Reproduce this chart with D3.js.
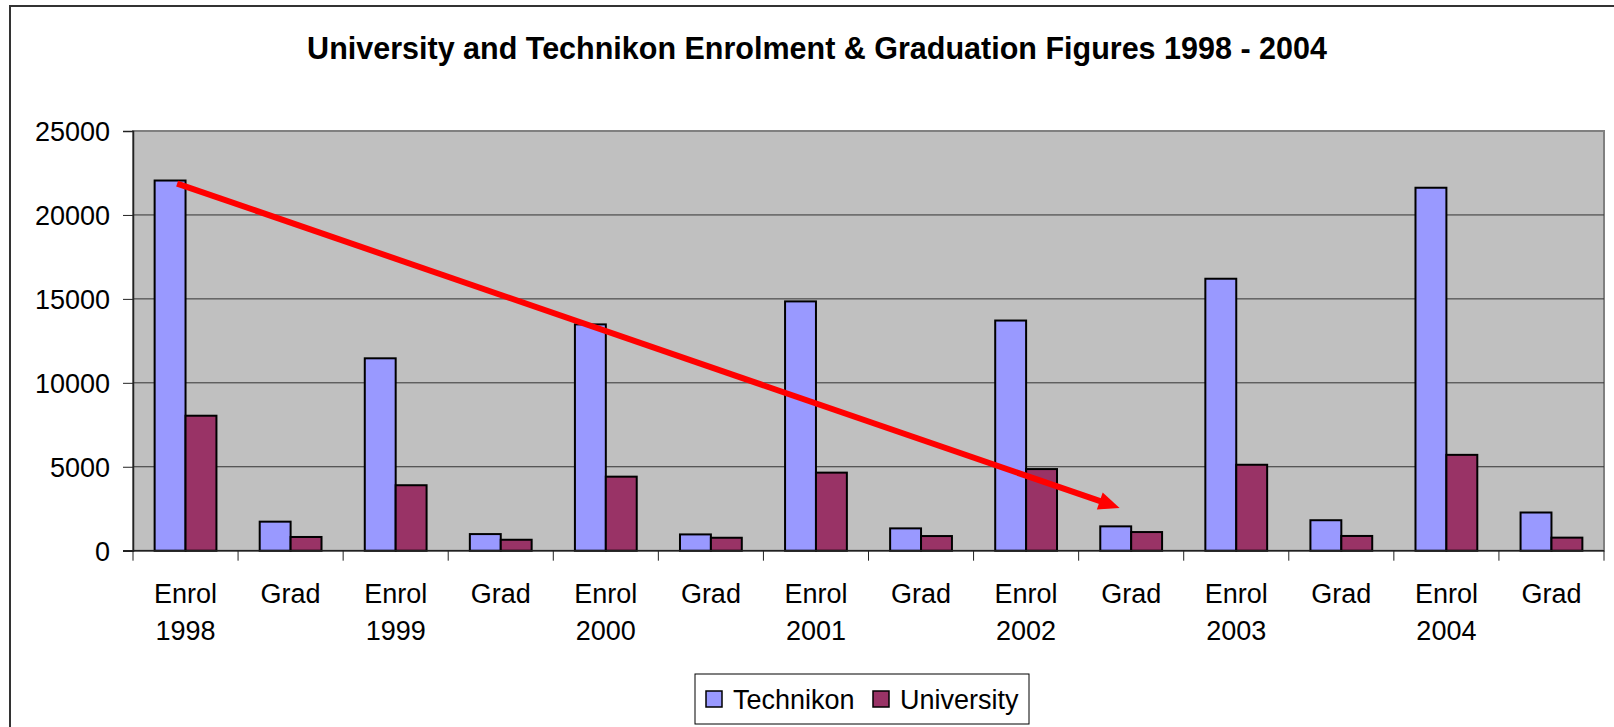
<!DOCTYPE html>
<html>
<head>
<meta charset="utf-8">
<script src="https://cdn.jsdelivr.net/npm/d3@7"></script>
<style>
  html, body { margin: 0; padding: 0; background: #fff; }
  svg { display: block; font-family: "Liberation Sans", Arial, sans-serif; }
</style>
</head>
<body>
<svg id="chart" width="1614" height="727"></svg>
<script>
// Categories: enrolment and graduation per year
var categories = ['Enrol 1998', 'Grad 1998', 'Enrol 1999', 'Grad 1999', 'Enrol 2000', 'Grad 2000',
                  'Enrol 2001', 'Grad 2001', 'Enrol 2002', 'Grad 2002', 'Enrol 2003', 'Grad 2003',
                  'Enrol 2004', 'Grad 2004']
  , series = ['Technikon', 'University']
  , technikon = [22050, 1730, 11460, 990, 13480, 970, 14850, 1330, 13710, 1450, 16200, 1815, 21620, 2275]
  , university = [8040, 817, 3900, 652, 4410, 771, 4650, 873, 4862, 1111, 5119, 878, 5709, 778]
  , yTicks = [0, 5000, 10000, 15000, 20000, 25000]
  , title = 'University and Technikon Enrolment & Graduation Figures 1998 - 2004'
  // trend arrow drawn over the bars, from/to expressed in chart terms
  , arrowFrom = { cat: 'Enrol 1998', at: 0.42, value: 21870 }
  , arrowTo = { cat: 'Grad 2002', at: 0.39, value: 2550 }

var colors = { Technikon: '#9999FF', University: '#993366' }
  , plot = { left: 133, right: 1604, top: 131, bottom: 550.7 }

var svg = d3.select('svg#chart')

// outer chart border, runs off the right and bottom of the page
svg.append('rect')
  .attr('x', 10).attr('y', 6).attr('width', 1630).attr('height', 760)
  .attr('fill', '#fff').attr('stroke', '#333').attr('stroke-width', 2)

svg.append('text')
  .attr('x', 817).attr('y', 59)
  .attr('text-anchor', 'middle')
  .style('font-weight', 'bold').style('font-size', '30.5px')
  .text(title)

var x0 = d3.scaleBand().domain(categories).range([plot.left, plot.right]).padding(0)
  , x1 = d3.scaleBand().domain(series).range([0, x0.bandwidth()]).paddingInner(0).paddingOuter(0.7)
  , y = d3.scaleLinear().domain([0, 25000]).range([plot.bottom, plot.top])

// plot background
svg.append('rect')
  .attr('x', plot.left).attr('y', plot.top)
  .attr('width', plot.right - plot.left).attr('height', plot.bottom - plot.top)
  .attr('fill', '#C0C0C0').attr('stroke', '#808080').attr('stroke-width', 2)

// gridlines
svg.append('g').selectAll('line').data(yTicks.slice(1, -1))
  .enter().append('line')
  .attr('x1', plot.left).attr('x2', plot.right)
  .attr('y1', function(d) { return y(d) }).attr('y2', function(d) { return y(d) })
  .attr('stroke', '#333').attr('stroke-width', 1)

// y axis
var yAxis = svg.append('g')
  .attr('transform', 'translate(' + plot.left + ',0)')
  .call(d3.axisLeft(y).tickValues(yTicks).tickFormat(d3.format('d')).tickSize(10).tickPadding(13))
yAxis.select('.domain').attr('stroke', '#222').attr('stroke-width', 1.5)
yAxis.selectAll('.tick line').attr('stroke', '#222')
yAxis.selectAll('text').style('font-size', '27px').attr('fill', '#000').attr('dy', '0.36em')

// bars
var rows = categories.map(function(c, i) {
  return { cat: c, values: [
    { key: 'Technikon', value: technikon[i] },
    { key: 'University', value: university[i] }
  ] }
})

svg.append('g').selectAll('g').data(rows)
  .enter().append('g')
  .attr('transform', function(d) { return 'translate(' + x0(d.cat) + ',0)' })
  .selectAll('rect').data(function(d) { return d.values })
  .enter().append('rect')
  .attr('x', function(d) { return x1(d.key) })
  .attr('width', x1.bandwidth())
  .attr('y', function(d) { return y(d.value) })
  .attr('height', function(d) { return y(0) - y(d.value) })
  .attr('fill', function(d) { return colors[d.key] })
  .attr('stroke', '#000').attr('stroke-width', 2)

// x axis line with ticks between categories
var xAxis = svg.append('g')
xAxis.append('line')
  .attr('x1', plot.left - 10).attr('x2', plot.right)
  .attr('y1', y(0)).attr('y2', y(0))
  .attr('stroke', '#222').attr('stroke-width', 1.5)
xAxis.selectAll('line.tick').data(categories.map(function(c) { return x0(c) }).concat([plot.right]))
  .enter().append('line').classed('tick', true)
  .attr('x1', function(d) { return d }).attr('x2', function(d) { return d })
  .attr('y1', y(0)).attr('y2', y(0) + 10)
  .attr('stroke', '#222').attr('stroke-width', 1)

// "Enrol" columns get the year on a second line, "Grad" columns don't
var labels = xAxis.selectAll('text').data(categories)
  .enter().append('text')
  .attr('text-anchor', 'middle')
  .style('font-size', '27px')
  .attr('transform', function(c) { return 'translate(' + (x0(c) + x0.bandwidth() / 2) + ',603)' })
labels.selectAll('tspan')
  .data(function(c) { var p = c.split(' '); return p[0] === 'Grad' ? [p[0]] : p })
  .enter().append('tspan')
  .attr('x', 0)
  .attr('y', function(d, i) { return i * 37 })
  .text(function(d) { return d })

// trend arrow
var sx = x0(arrowFrom.cat) + arrowFrom.at * x0.bandwidth()
  , sy = y(arrowFrom.value)
  , tx = x0(arrowTo.cat) + arrowTo.at * x0.bandwidth()
  , ty = y(arrowTo.value)
  , len = Math.sqrt((tx - sx) * (tx - sx) + (ty - sy) * (ty - sy))
  , ux = (tx - sx) / len, uy = (ty - sy) / len
  , headLen = 21, headHalf = 9
  , bx = tx - ux * headLen, by = ty - uy * headLen

svg.append('line')
  .attr('x1', sx).attr('y1', sy).attr('x2', bx + ux * 2).attr('y2', by + uy * 2)
  .attr('stroke', '#FF0000').attr('stroke-width', 6)
svg.append('path')
  .attr('d', 'M' + tx + ',' + ty +
    'L' + (bx - uy * headHalf) + ',' + (by + ux * headHalf) +
    'L' + (bx + uy * headHalf) + ',' + (by - ux * headHalf) + 'Z')
  .attr('fill', '#FF0000')

// legend
var legend = svg.append('g').attr('transform', 'translate(695,674)')
legend.append('rect')
  .attr('width', 334).attr('height', 50)
  .attr('fill', '#fff').attr('stroke', '#000').attr('stroke-width', 1)
var items = legend.selectAll('g').data(series)
  .enter().append('g')
  .attr('transform', function(d, i) { return 'translate(' + (11 + i * 167) + ',0)' })
items.append('rect')
  .attr('y', 17).attr('width', 16).attr('height', 16)
  .attr('fill', function(d) { return colors[d] })
  .attr('stroke', '#000').attr('stroke-width', 1.5)
items.append('text')
  .attr('x', 27).attr('y', 35)
  .style('font-size', '27px')
  .text(function(d) { return d })
</script>
</body>
</html>
